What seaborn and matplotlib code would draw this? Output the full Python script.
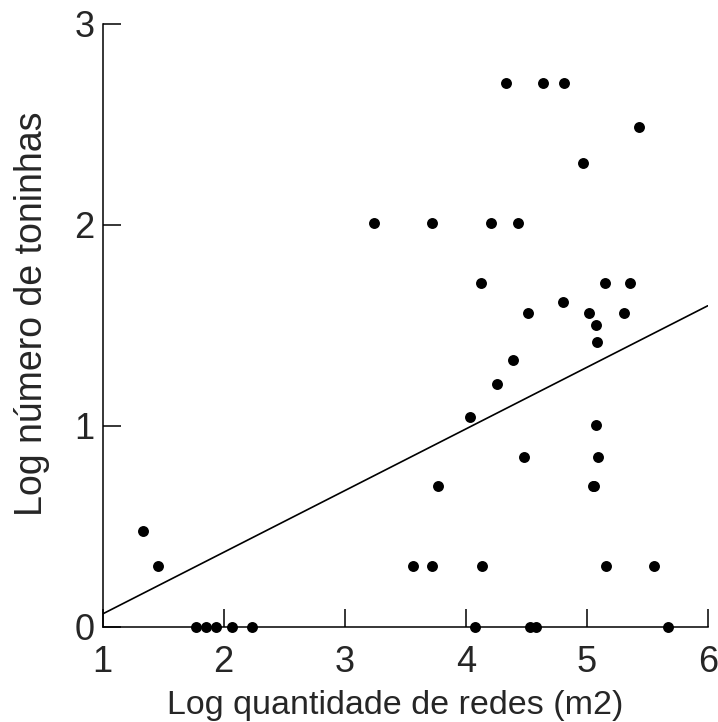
import matplotlib
matplotlib.use("Agg")
import matplotlib.pyplot as plt
import numpy as np
import pandas as pd
import seaborn as sns

# log net area (x) and log number of dolphins (y)
log_redes = [1.771, 1.854, 1.936, 2.072, 2.236, 4.074, 4.534, 4.584, 5.672,
             1.455, 3.567, 3.721, 4.135, 5.162, 5.556,
             1.336,
             3.768, 5.050, 5.060,
             4.484, 5.093,
             5.077, 4.036, 4.256, 4.391, 5.083, 5.077,
             4.515, 5.019, 5.308,
             4.802,
             4.129, 5.149, 5.355,
             3.245, 3.724, 4.209, 4.432,
             4.972, 5.432,
             4.336, 4.636, 4.810]
log_toninhas = [0, 0, 0, 0, 0, 0, 0, 0, 0,
                0.302, 0.302, 0.302, 0.302, 0.302, 0.302,
                0.480,
                0.703, 0.703, 0.703,
                0.848, 0.848,
                1.004, 1.045, 1.208, 1.326, 1.419, 1.500,
                1.561, 1.561, 1.561,
                1.618,
                1.712, 1.712, 1.712,
                2.009, 2.009, 2.009, 2.009,
                2.310, 2.485,
                2.708, 2.708, 2.708]

# fitted line as drawn in the figure (ends at x=1 and x=6)
fit_x = [1, 6]
fit_y = [0.065, 1.598]

x_ticks = [1, 2, 3, 4, 5, 6]
y_ticks = [0, 1, 2, 3]

df = pd.DataFrame({"x": log_redes, "y": log_toninhas})
fit_df = pd.DataFrame({"x": fit_x, "y": fit_y})

sns.set_theme(style="ticks")
plt.rcParams['font.family'] = ['Liberation Sans', 'DejaVu Sans']

fig = plt.figure(figsize=(7.18, 7.22), dpi=100)
ax = fig.add_axes([0.143, 0.1316, 0.8427, 0.8352])

sns.lineplot(data=fit_df, x="x", y="y", ax=ax, color="black", linewidth=1.2)
sns.scatterplot(data=df, x="x", y="y", ax=ax, s=62, color="black",
                linewidth=0, zorder=3, clip_on=False)

ax.set_xlim(1, 6)
ax.set_ylim(0, 3)
ax.set_xticks(x_ticks)
ax.set_yticks(y_ticks)
ax.tick_params(direction="in", length=13, width=1.1, labelsize=26, color="black")
ax.tick_params(axis="x", pad=13)
ax.tick_params(axis="y", pad=6)
for s in ["top", "right"]:
    ax.spines[s].set_visible(False)
for s in ["left", "bottom"]:
    ax.spines[s].set_linewidth(1.1)
    ax.spines[s].set_color("black")

ax.set_xlabel("Log quantidade de redes (m2)", fontsize=24.5)
ax.set_ylabel("Log número de toninhas", fontsize=27)
ax.xaxis.set_label_coords(0.484, -0.104)
ax.yaxis.set_label_coords(-0.087, 0.519)

fig.savefig("out.png", dpi=100)
